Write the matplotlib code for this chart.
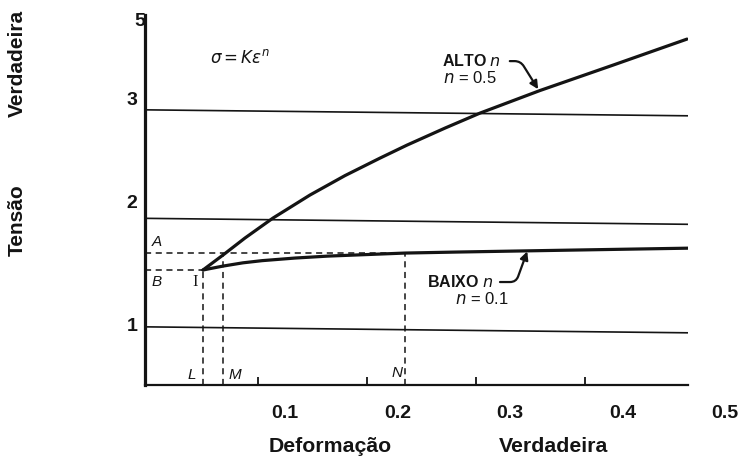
import matplotlib
matplotlib.use("Agg")
import matplotlib.pyplot as plt
from matplotlib.transforms import blended_transform_factory

INK = "#141414"
SANS = "Liberation Sans"

plt.rcParams.update({
    "font.family": SANS,
    "mathtext.fontset": "dejavusans",
    "text.color": INK,
})

# readings: true strain vs true stress
high_eps = [0.0495, 0.0679, 0.0881, 0.1138, 0.1477, 0.1798, 0.2119, 0.2367,
            0.2716, 0.3037, 0.3587, 0.4257, 0.4936]
high_sig = [1.524, 1.662, 1.819, 2.003, 2.215, 2.394, 2.555, 2.675,
            2.832, 2.970, 3.178, 3.412, 3.652]
low_eps = [0.0495, 0.0679, 0.0862, 0.1037, 0.1339, 0.1642, 0.2349, 0.2807, 0.3862, 0.4945]
low_sig = [1.524, 1.560, 1.590, 1.610, 1.634, 1.652, 1.680, 1.689, 1.707, 1.725]

grid_levels = [1, 2, 3]
grid_skew = 0.055          # the scan is slightly rotated

eps_L, eps_M, eps_N = 0.0495, 0.068, 0.235
sig_A, sig_B = 1.68, 1.524

tick_marks = [0.1, 0.2, 0.3, 0.4]
x_labels = ["0.1", "0.2", "0.3", "0.4", "0.5"]
x_label_pos = [0.125, 0.228, 0.331, 0.435, 0.5284]
y_labels = ["1", "2", "3"]
y_label_pos = [1.0, 2.14, 3.09]

XMIN, XMAX = -0.0037, 0.4945
YMIN, YMAX = 0.464, 3.874

W, H = 740, 457
fig = plt.figure(figsize=(W / 100, H / 100), dpi=100, facecolor="white")
ax = fig.add_axes([145 / W, 1 - 385 / H, (688 - 145) / W, (385 - 15) / H])
ax.set_xlim(XMIN, XMAX)
ax.set_ylim(YMIN, YMAX)

# spines / ticks
for s in ("top", "right"):
    ax.spines[s].set_visible(False)
ax.spines["left"].set_linewidth(2.3)
ax.spines["bottom"].set_linewidth(1.6)
ax.spines["left"].set_color(INK)
ax.spines["bottom"].set_color(INK)
ax.set_xticks([])
ax.set_yticks([])
ax.set_xticks(tick_marks, minor=True)
ax.tick_params(axis="x", which="minor", direction="in", length=6, width=1.3,
               color=INK, labelbottom=False)

# grid lines (tilted like the scan)
for g in grid_levels:
    ax.plot([XMIN, XMAX], [g, g - grid_skew], color=INK, lw=1.2)

# dashed construction lines
dash = dict(color=INK, lw=1.1, linestyle=(0, (4, 3)))
ax.plot([XMIN, eps_N], [sig_A, sig_A], **dash)
ax.plot([XMIN, eps_L], [sig_B, sig_B], **dash)
ax.plot([eps_L, eps_L], [YMIN, sig_B], **dash)
ax.plot([eps_M, eps_M], [YMIN, sig_A], **dash)
ax.plot([eps_N, eps_N], [YMIN, sig_A], **dash)

# flow curves
ax.plot(high_eps, high_sig, color=INK, lw=2.3, solid_capstyle="round",
        solid_joinstyle="round")
ax.plot(low_eps, low_sig, color=INK, lw=2.3, solid_capstyle="round",
        solid_joinstyle="round")

# letters
it = dict(fontsize=11, fontstyle="italic", ha="center", va="center")
ax.text(0.007, 1.78, "A", **it)
ax.text(0.007, 1.413, "B", **it)
ax.text(0.039, 0.556, "L", **it)
ax.text(0.079, 0.556, "M", **it)
ax.text(0.2275, 0.575, "N", **it)
ax.text(0.042, 1.413, "I", fontsize=12, family="Liberation Serif",
        ha="center", va="center")

ax.text(0.084, 3.487, r"$\sigma = K\epsilon^{n}$", fontsize=12,
        ha="center", va="center")

# curve labels
ax.text(0.269, 3.449, r"ALTO $n$", fontsize=11.5, fontweight="bold",
        ha="left", va="center")
ax.text(0.270, 3.293, r"$n$ = 0.5", fontsize=12, ha="left", va="center")
ax.annotate("", xy=(0.357, 3.19), xytext=(0.331, 3.449),
            arrowprops=dict(arrowstyle="-|>", color=INK, lw=1.6,
                            mutation_scale=12, shrinkA=0, shrinkB=0,
                            connectionstyle="angle,angleA=0,angleB=-58,rad=6"))

ax.text(0.255, 1.413, r"BAIXO $n$", fontsize=11.5, fontweight="bold",
        ha="left", va="center")
ax.text(0.281, 1.26, r"$n$ = 0.1", fontsize=12, ha="left", va="center")
ax.annotate("", xy=(0.347, 1.695), xytext=(0.322, 1.413),
            arrowprops=dict(arrowstyle="-|>", color=INK, lw=1.6,
                            mutation_scale=12, shrinkA=0, shrinkB=0,
                            connectionstyle="angle,angleA=0,angleB=70,rad=6"))

# tick labels (offset from the tick marks, as in the reference)
tx = blended_transform_factory(ax.transData, fig.transFigure)
for lab, pos in zip(x_labels, x_label_pos):
    ax.text(pos, 1 - 414 / H, lab, transform=tx, fontsize=14, fontweight="bold",
            ha="center", va="center", clip_on=False)
ty = blended_transform_factory(fig.transFigure, ax.transData)
for lab, pos in zip(y_labels, y_label_pos):
    ax.text(132 / W, pos, lab, transform=ty, fontsize=14, fontweight="bold",
            ha="center", va="center", clip_on=False)
ax.text(140 / W, 3.81, "5", transform=ty, fontsize=14, fontweight="bold",
        ha="center", va="center", clip_on=False)

# axis titles
fig.text(330 / W, 1 - 447 / H, "Deformação", fontsize=15.3, fontweight="bold",
         ha="center", va="center")
fig.text(554 / W, 1 - 447 / H, "Verdadeira", fontsize=15.3, fontweight="bold",
         ha="center", va="center")
fig.text(17 / W, 1 - 220 / H, "Tensão", fontsize=15, fontweight="bold",
         rotation=90, ha="center", va="center")
fig.text(17 / W, 1 - 63 / H, "Verdadeira", fontsize=15, fontweight="bold",
         rotation=90, ha="center", va="center")

fig.savefig("out.png", dpi=100, facecolor="white")
